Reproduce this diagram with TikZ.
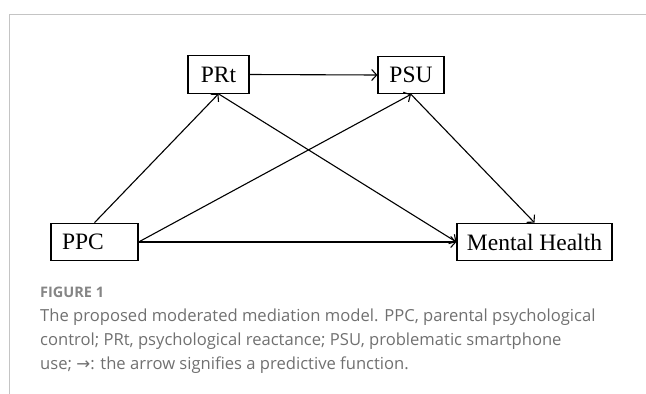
\documentclass[tikz,border=0pt]{standalone}
\usepackage{fontspec}
\setmainfont{Liberation Serif}
\newfontfamily\capfont{Open Sans}
\newfontfamily\arrfont{DejaVu Sans}
\usetikzlibrary{arrows.meta}
\definecolor{framegray}{HTML}{C4C4C4}
\definecolor{capgray}{HTML}{707070}
\tikzset{
  varbox/.style={draw=black, line width=1.2pt, inner sep=0pt, minimum height=37.5pt,
    font=\fontsize{23.5}{23.5}\selectfont},
  path/.style={draw=black, line width=1.1pt, -{Straight Barb[length=5pt,width=11pt,line width=1.1pt]}},
  captext/.style={anchor=base west, inner sep=0pt, text=capgray, font=\capfont\fontsize{16.6}{24}\selectfont},
  figlabel/.style={anchor=base west, inner sep=0pt, text=capgray!85, font=\capfont\bfseries\fontsize{14.5}{18}\selectfont}
}
\begin{document}
\begin{tikzpicture}[x=1pt,y=-1pt]
\useasboundingbox (0,0) rectangle (646,394);
% frame
\draw[framegray, line width=1pt] (9,394) -- (9,14) -- (646,14);
% boxes
\node[varbox, minimum width=61pt] (prt) at (218.5,74.5) {PRt};
\node[varbox, minimum width=66pt] (psu) at (411,75) {PSU};
\node[varbox, minimum width=87pt, align=left] (ppc) at (94.5,242) {\makebox[65pt][l]{PPC}};
\node[varbox, minimum width=155pt] (mh) at (534.5,242) {Mental Health};
% arrows
\draw[path] (prt.east) -- (psu.west);
\draw[path] (ppc.north) -- (prt.south);
\draw[path] (ppc.east) -- (psu.south);
\draw[path] (ppc.east) -- (mh.west);
\draw[path] (prt.south) -- (mh.west);
\draw[path] (psu.south) -- (mh.north);
% caption
\node[figlabel] (fig) at (40,297) {FIGURE 1};
\node[captext] (cap1) at (40,321) {The proposed moderated mediation model. PPC, parental psychological};
\node[captext] (cap2) at (40,345) {control; PRt, psychological reactance; PSU, problematic smartphone};
\node[captext] (cap3) at (40,369) {use; {\arrfont →}: the arrow signifies a predictive function.};
\end{tikzpicture}
\end{document}
